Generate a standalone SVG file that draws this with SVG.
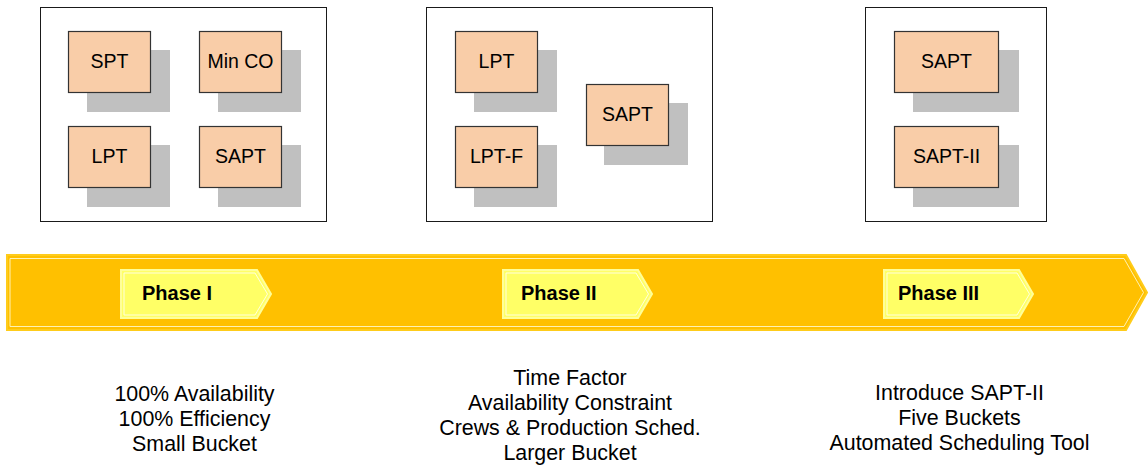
<svg xmlns="http://www.w3.org/2000/svg" width="1148" height="468" viewBox="0 0 1148 468">
  <style>
    .panel { fill: #ffffff; stroke: #1a1a1a; stroke-width: 1; }
    .shadow { fill: #c0c0c0; }
    .algo { fill: #f9cda8; stroke: #333333; stroke-width: 1.2; }
    .algo-text { font-family: "Liberation Sans", Arial, sans-serif; font-size: 19.5px; fill: #000000; text-anchor: middle; }
    .band { fill: #ffc000; stroke: #ffcc1a; stroke-width: 2; }
    .band-line { fill: none; stroke: #fff2b3; stroke-width: 1; }
    .tag { fill: #ffff66; stroke: #ffff99; stroke-width: 2; }
    .tag-line { fill: none; stroke: #ffffdd; stroke-width: 1; }
    .tag-text { font-family: "Liberation Sans", Arial, sans-serif; font-size: 20px; font-weight: bold; fill: #000000; }
    .note { font-family: "Liberation Sans", Arial, sans-serif; font-size: 21.4px; fill: #000000; text-anchor: middle; }
  </style>

  <!-- Timeline band -->
  <g id="timeline">
    <polygon class="band" points="7,255 1126,255 1147,292.5 1126,330 7,330"/>
    <polygon class="band-line" points="10,258.5 1124,258.5 1143.5,292.5 1124,326.5 10,326.5"/>
  </g>

  <!-- Phase tags -->
  <g id="phase1">
    <polygon class="tag" points="121,270 257,270 271,294 257,318 121,318"/>
    <polygon class="tag-line" points="124,273 255,273 267.5,294 255,315 124,315"/>
    <text class="tag-text" x="142" y="300">Phase I</text>
  </g>
  <g id="phase2">
    <polygon class="tag" points="503,270 638,270 652,294 638,318 503,318"/>
    <polygon class="tag-line" points="506,273 636,273 648.5,294 636,315 506,315"/>
    <text class="tag-text" x="521" y="300">Phase II</text>
  </g>
  <g id="phase3">
    <polygon class="tag" points="884,270 1019,270 1033,294 1019,318 884,318"/>
    <polygon class="tag-line" points="887,273 1017,273 1029.5,294 1017,315 887,315"/>
    <text class="tag-text" x="898" y="300">Phase III</text>
  </g>

  <!-- Phase I panel -->
  <g id="panel1">
    <rect class="panel" x="40.5" y="7.5" width="286" height="214"/>
  </g>
  <g id="p1-spt">
    <rect class="shadow" x="87" y="50" width="83" height="62"/>
    <rect class="algo" x="68.5" y="31.5" width="82" height="61"/>
    <text class="algo-text" x="109.5" y="68">SPT</text>
  </g>
  <g id="p1-minco">
    <rect class="shadow" x="218" y="50" width="83" height="62"/>
    <rect class="algo" x="199.5" y="31.5" width="82" height="61"/>
    <text class="algo-text" x="240.5" y="68">Min CO</text>
  </g>
  <g id="p1-lpt">
    <rect class="shadow" x="87" y="145" width="83" height="62"/>
    <rect class="algo" x="68.5" y="126.5" width="82" height="61"/>
    <text class="algo-text" x="109.5" y="163">LPT</text>
  </g>
  <g id="p1-sapt">
    <rect class="shadow" x="218" y="145" width="83" height="62"/>
    <rect class="algo" x="199.5" y="126.5" width="82" height="61"/>
    <text class="algo-text" x="240.5" y="163">SAPT</text>
  </g>

  <!-- Phase II panel -->
  <g id="panel2">
    <rect class="panel" x="426.5" y="7.5" width="286" height="214"/>
  </g>
  <g id="p2-lpt">
    <rect class="shadow" x="474" y="50" width="83" height="62"/>
    <rect class="algo" x="455.5" y="31.5" width="82" height="61"/>
    <text class="algo-text" x="496.5" y="68">LPT</text>
  </g>
  <g id="p2-lptf">
    <rect class="shadow" x="474" y="145" width="83" height="62"/>
    <rect class="algo" x="455.5" y="126.5" width="82" height="61"/>
    <text class="algo-text" x="496.5" y="163">LPT-F</text>
  </g>
  <g id="p2-sapt">
    <rect class="shadow" x="604" y="103" width="84" height="62"/>
    <rect class="algo" x="586.5" y="84.5" width="82" height="61"/>
    <text class="algo-text" x="627.5" y="121">SAPT</text>
  </g>

  <!-- Phase III panel -->
  <g id="panel3">
    <rect class="panel" x="865.5" y="7.5" width="181" height="214"/>
  </g>
  <g id="p3-sapt">
    <rect class="shadow" x="913" y="50" width="106" height="62"/>
    <rect class="algo" x="894.5" y="31.5" width="104" height="61"/>
    <text class="algo-text" x="946.5" y="68">SAPT</text>
  </g>
  <g id="p3-sapt2">
    <rect class="shadow" x="913" y="145" width="106" height="62"/>
    <rect class="algo" x="894.5" y="126.5" width="104" height="61"/>
    <text class="algo-text" x="946.5" y="163">SAPT-II</text>
  </g>

  <!-- Phase notes -->
  <g id="notes1">
    <text class="note" x="194.5" y="401">100% Availability</text>
    <text class="note" x="194.5" y="426">100% Efficiency</text>
    <text class="note" x="194.5" y="451">Small Bucket</text>
  </g>
  <g id="notes2">
    <text class="note" x="570" y="385">Time Factor</text>
    <text class="note" x="570" y="410">Availability Constraint</text>
    <text class="note" x="570" y="435">Crews &amp; Production Sched.</text>
    <text class="note" x="570" y="460">Larger Bucket</text>
  </g>
  <g id="notes3">
    <text class="note" x="959.5" y="400">Introduce SAPT-II</text>
    <text class="note" x="959.5" y="425">Five Buckets</text>
    <text class="note" x="959.5" y="450">Automated Scheduling Tool</text>
  </g>

  <!-- No connectors in this figure -->
  <g id="connectors"/>
</svg>
